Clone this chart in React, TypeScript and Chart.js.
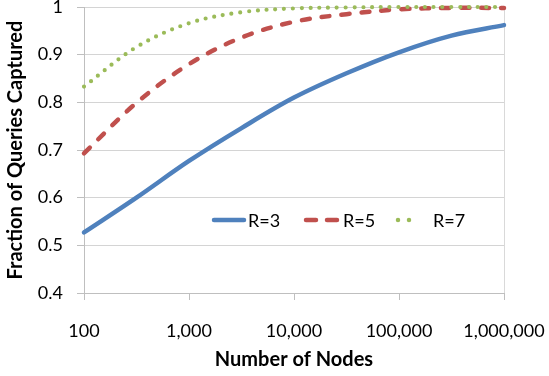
import { useEffect, useRef } from 'react';
import { Chart, registerables } from 'chart.js';

Chart.register(...registerables);

const nodeCounts = [100, 316, 1000, 3162, 10000, 31623, 100000, 316228, 1000000];
const r3Values = [0.527, 0.6, 0.677, 0.746, 0.81, 0.861, 0.905, 0.94, 0.962];
const r5Values = [0.693, 0.799, 0.88, 0.936, 0.969, 0.985, 0.995, 0.998, 0.998];
const r7Values = [0.833, 0.916, 0.966, 0.989, 0.997, 0.999, 1.0, 1.0, 1.0];
const seriesLabels = ['R=3', 'R=5', 'R=7'];
const xTickValues = [100, 1000, 10000, 100000, 1000000];

const BLUE = '#4F81BD';
const RED = '#C0504D';
const GREEN = '#9BBB59';
const FONT = 'Lato';

const toPoints = (vals: number[]) => vals.map((v, i) => ({ x: nodeCounts[i], y: v }));

const legendPlugin = {
  id: 'insideLegend',
  afterDatasetsDraw(chart: any) {
    const { ctx, chartArea: a } = chart;
    const y = a.top + 213;
    const items = [
      { label: seriesLabels[0], color: BLUE, dash: [] as number[], w: 4.5, x0: 130, x1: 160, tx: 164 },
      { label: seriesLabels[1], color: RED, dash: [10, 11], w: 4.5, x0: 222, x1: 253, tx: 259 },
      { label: seriesLabels[2], color: GREEN, dash: [0, 11], w: 4.5, x0: 314, x1: 336, tx: 349 },
    ];
    ctx.save();
    for (const it of items) {
      ctx.beginPath();
      ctx.strokeStyle = it.color;
      ctx.lineWidth = it.w;
      ctx.lineCap = 'round';
      ctx.setLineDash(it.dash);
      ctx.moveTo(a.left + it.x0, y);
      ctx.lineTo(a.left + it.x1, y);
      ctx.stroke();
      ctx.setLineDash([]);
      ctx.fillStyle = '#000';
      ctx.font = `18px ${FONT}`;
      ctx.textAlign = 'left';
      ctx.textBaseline = 'alphabetic';
      ctx.fillText(it.label, a.left + it.tx, y + 7);
    }
    ctx.restore();
  },
};

export default function App() {
  const canvasRef = useRef<HTMLCanvasElement | null>(null);

  useEffect(() => {
    document.body.style.margin = '0';
    const canvas = canvasRef.current;
    if (!canvas) return;
    const chart = new Chart(canvas, {
      type: 'line',
      data: {
        datasets: [
          {
            label: seriesLabels[0],
            data: toPoints(r3Values),
            borderColor: BLUE,
            borderWidth: 4.5,
            pointRadius: 0,
            tension: 0.35,
            borderCapStyle: 'round',
            order: 3,
            clip: 6,
          },
          {
            label: seriesLabels[1],
            data: toPoints(r5Values),
            borderColor: RED,
            borderWidth: 4.5,
            borderDash: [8, 12],
            borderCapStyle: 'round',
            pointRadius: 0,
            tension: 0.35,
            order: 2,
            clip: 6,
          },
          {
            label: seriesLabels[2],
            data: toPoints(r7Values),
            borderColor: GREEN,
            borderWidth: 4.2,
            borderDash: [0, 8.8],
            borderCapStyle: 'round',
            pointRadius: 0,
            tension: 0.35,
            order: 1,
            clip: 6,
          },
        ],
      } as any,
      options: {
        animation: false,
        responsive: true,
        maintainAspectRatio: false,
        layout: { padding: { top: 7, right: 45, left: 0, bottom: 0 } },
        plugins: {
          legend: { display: false },
          tooltip: { enabled: false },
        },
        scales: {
          x: {
            type: 'logarithmic',
            min: 100,
            max: 1000000,
            afterBuildTicks: (scale: any) => {
              scale.ticks = xTickValues.map((v) => ({ value: v }));
            },
            afterFit: (scale: any) => {
              scale.height = 83;
              scale.paddingLeft = 0;
              scale.paddingRight = 0;
            },
            ticks: {
              autoSkip: false,
              maxRotation: 0,
              padding: 20,
              color: '#000',
              font: { family: FONT, size: 18 },
              callback: (v: any) => Number(v).toLocaleString('en-US'),
            },
            grid: {
              drawOnChartArea: true,
              color: (c: any) => (c.tick && c.tick.value === 1000000 ? '#d9d9d9' : 'rgba(0,0,0,0)'),
              tickColor: '#bfbfbf',
              tickLength: 7,
              lineWidth: 1,
            },
            border: { display: true, color: '#bfbfbf', width: 1 },
            title: {
              display: true,
              text: 'Number of Nodes',
              color: '#000',
              font: { family: FONT, size: 20, weight: 'bold' },
              padding: { top: 0, bottom: 4 },
            },
          },
          y: {
            type: 'linear',
            min: 0.4,
            max: 1,
            afterFit: (scale: any) => {
              scale.width = 84;
              scale.paddingTop = 0;
              scale.paddingBottom = 0;
            },
            ticks: {
              stepSize: 0.1,
              padding: 14,
              color: '#000',
              font: { family: FONT, size: 18 },
              callback: (v: any) => String(Math.round(Number(v) * 10) / 10),
            },
            grid: {
              color: '#d4d4d4',
              tickColor: '#bfbfbf',
              tickLength: 7,
              lineWidth: 1,
            },
            border: { display: true, color: '#bfbfbf', width: 1 },
            title: {
              display: true,
              text: 'Fraction of Queries Captured',
              color: '#000',
              font: { family: FONT, size: 20, weight: 'bold' },
              padding: { top: 4, bottom: 0 },
            },
          },
        },
      } as any,
      plugins: [legendPlugin],
    });
    return () => chart.destroy();
  }, []);

  return (
    <div style={{ position: 'relative', width: 549, height: 376 }}>
      <canvas ref={canvasRef} />
    </div>
  );
}
